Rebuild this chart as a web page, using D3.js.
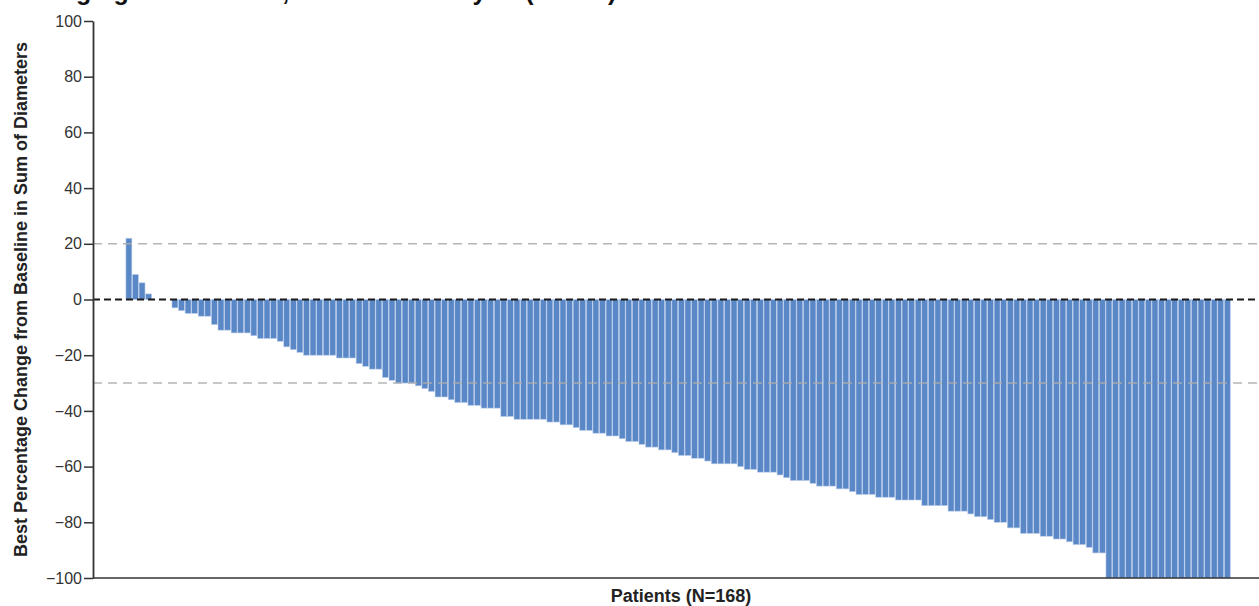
<!DOCTYPE html>
<html>
<head>
<meta charset="utf-8">
<script src="https://cdn.jsdelivr.net/npm/d3@7"></script>
<style>
  html, body { margin: 0; padding: 0; background: #fff; overflow: hidden; }
  svg { display: block; }
</style>
</head>
<body>
<svg id="chart" width="1259" height="606"></svg>
<script>
// ---- data ----
const titleText = "Imaging Assessment, Central Read by IR (N=168)";
const yAxisTitle = "Best Percentage Change from Baseline in Sum of Diameters";
const xAxisTitle = "Patients (N=168)";
const yTicks = [-100, -80, -60, -40, -20, 0, 20, 40, 60, 80, 100];
const refLines = [20, -30];

const positiveValues = [22, 9, 6, 2];
const zeroValues = [0, 0, 0];
const negativeValues = [
  -3, -4, -5, -5, -6, -6, -9, -11, -11, -12,
  -12, -12, -13, -14, -14, -14, -15, -17, -18, -19,
  -20, -20, -20, -20, -20, -21, -21, -21, -23, -24,
  -25, -25, -28, -29, -30, -30, -30, -31, -32, -33,
  -35, -35, -36, -37, -37, -38, -38, -39, -39, -39,
  -42, -42, -43, -43, -43, -43, -43, -44, -44, -45,
  -45, -46, -47, -47, -48, -48, -49, -49, -50, -51,
  -51, -52, -53, -53, -54, -54, -55, -56, -56, -57,
  -57, -58, -59, -59, -59, -59, -60, -61, -61, -62,
  -62, -62, -63, -64, -65, -65, -65, -66, -67, -67,
  -67, -68, -68, -69, -70, -70, -70, -71, -71, -71,
  -72, -72, -72, -72, -74, -74, -74, -74, -76, -76,
  -76, -77, -78, -78, -79, -80, -80, -82, -82, -84,
  -84, -84, -85, -85, -86, -86, -87, -88, -88, -89,
  -91, -91, -100, -100, -100, -100, -100, -100, -100, -100,
  -100, -100, -100, -100, -100, -100, -100, -100, -100, -100,
  -100
];
const values = positiveValues.concat(zeroValues, negativeValues);
const patients = values.map((v, i) => i + 1);

// ---- layout ----
const svg = d3.select("#chart");
const axisX = 93, plotRight = 1259, yTop = 21, yBottom = 578;

const x = d3.scaleBand()
  .domain(patients)
  .range([125.6, 1230.6])
  .paddingInner(0.1)
  .paddingOuter(0.05);

const y = d3.scaleLinear().domain([-100, 100]).range([yBottom, yTop]);

// title (cropped at the top edge, as in the reference)
svg.append("text")
  .attr("x", 33)
  .attr("y", -0.5)
  .attr("font-family", "Liberation Sans, Arial, sans-serif")
  .attr("font-weight", "bold")
  .attr("font-size", 25)
  .attr("fill", "#111")
  .text(titleText);

// bars
svg.append("g")
  .selectAll("rect")
  .data(values.map((v, i) => ({ p: patients[i], v })))
  .join("rect")
  .attr("x", d => x(d.p))
  .attr("width", x.bandwidth())
  .attr("y", d => y(Math.max(0, d.v)))
  .attr("height", d => Math.abs(y(d.v) - y(0)))
  .attr("fill", "#5a87c6")
  .attr("stroke", "#b9cceb")
  .attr("stroke-width", 0.6);

// reference lines
svg.append("g")
  .selectAll("line")
  .data(refLines)
  .join("line")
  .attr("x1", axisX)
  .attr("x2", plotRight)
  .attr("y1", d => y(d))
  .attr("y2", d => y(d))
  .attr("stroke", "#adadad")
  .attr("stroke-width", 1.6)
  .attr("stroke-dasharray", "9,6")
  .attr("opacity", 0.9);

svg.append("line")
  .attr("x1", axisX)
  .attr("x2", plotRight)
  .attr("y1", y(0))
  .attr("y2", y(0))
  .attr("stroke", "#1a1a1a")
  .attr("stroke-width", 2)
  .attr("stroke-dasharray", "7,4");

// x axis line
svg.append("line")
  .attr("x1", axisX)
  .attr("x2", plotRight)
  .attr("y1", y(-100))
  .attr("y2", y(-100))
  .attr("stroke", "#333")
  .attr("stroke-width", 1.6);

// y axis
const yAxis = d3.axisLeft(y)
  .tickValues(yTicks)
  .tickSize(9)
  .tickSizeOuter(0)
  .tickPadding(2);

const gy = svg.append("g")
  .attr("transform", `translate(${axisX},0)`)
  .call(yAxis);
gy.select(".domain").attr("stroke", "#333").attr("stroke-width", 1.8);
gy.selectAll(".tick line").attr("stroke", "#333").attr("stroke-width", 1.5);
gy.selectAll(".tick text")
  .attr("font-family", "Liberation Sans, Arial, sans-serif")
  .attr("font-size", 16)
  .attr("fill", "#333");

// axis titles
svg.append("text")
  .attr("transform", `translate(27,${(yTop + yBottom) / 2}) rotate(-90)`)
  .attr("text-anchor", "middle")
  .attr("font-family", "Liberation Sans, Arial, sans-serif")
  .attr("font-weight", "bold")
  .attr("font-size", 18)
  .attr("fill", "#222")
  .text(yAxisTitle);

svg.append("text")
  .attr("x", 681)
  .attr("y", 602)
  .attr("text-anchor", "middle")
  .attr("font-family", "Liberation Sans, Arial, sans-serif")
  .attr("font-weight", "bold")
  .attr("font-size", 18)
  .attr("fill", "#222")
  .text(xAxisTitle);
</script>
</body>
</html>
